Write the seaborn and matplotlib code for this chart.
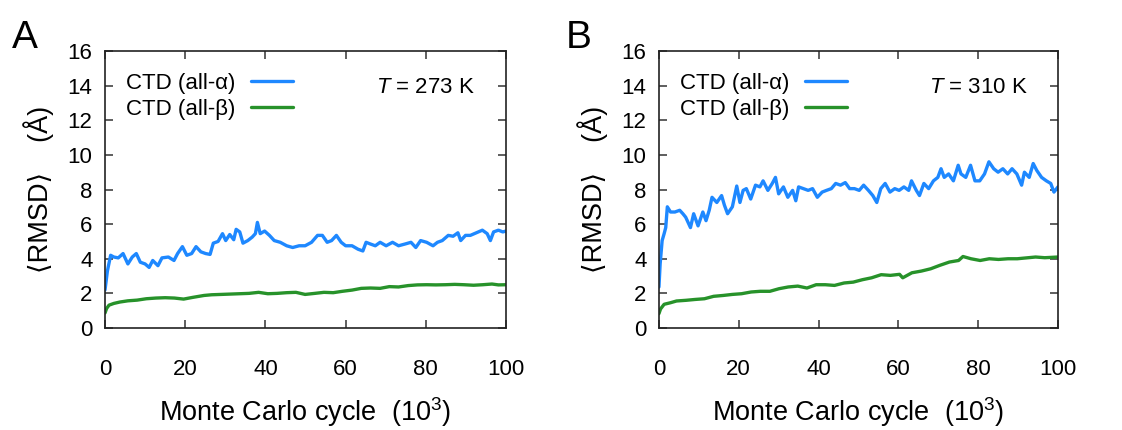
import matplotlib
matplotlib.use("Agg")
import matplotlib.pyplot as plt
import seaborn as sns
import pandas as pd

# ---- T = 273 K ----
cycle_273_alpha = [0, 0.6, 1.4, 2.2, 3.3, 4.5, 5.7, 6.8, 7.8, 8.8, 10.0, 11.0, 11.9, 13.2, 14.2,
                   15.8, 17.2, 18.1, 19.3, 20.4, 21.6, 22.7, 23.9, 25.1, 26.2, 27.0, 28.2, 29.3,
                   30.1, 31.1, 32.1, 32.7, 33.6, 34.4, 35.6, 36.7, 37.5, 38.0, 38.7, 39.8, 41.0,
                   42.2, 43.7, 45.3, 46.8, 48.4, 49.9, 51.5, 53.0, 54.2, 55.4, 56.5, 57.7, 58.9,
                   60.0, 61.6, 63.1, 64.3, 65.1, 66.2, 67.4, 68.6, 70.1, 71.7, 73.2, 74.8, 76.3,
                   77.5, 78.7, 80.2, 81.8, 82.9, 84.1, 85.6, 86.8, 88.0, 88.7, 89.9, 91.1, 92.6,
                   94.1, 95.3, 96.1, 96.9, 98.1, 99.2, 100.0]
rmsd_273_alpha = [2.2, 3.3, 4.2, 4.1, 4.05, 4.3, 3.7, 4.1, 4.3, 3.8, 3.7, 3.5, 3.9, 3.6, 4.05,
                  4.1, 3.9, 4.3, 4.7, 4.2, 4.3, 4.7, 4.4, 4.3, 4.25, 4.9, 5.0, 5.45, 5.05, 5.4,
                  5.1, 5.7, 5.55, 4.9, 5.05, 5.25, 5.45, 6.1, 5.45, 5.6, 5.35, 5.05, 4.95, 4.75,
                  4.65, 4.75, 4.75, 4.95, 5.35, 5.35, 4.95, 5.05, 5.35, 4.95, 4.75, 4.75, 4.55,
                  4.45, 4.95, 4.85, 4.75, 4.95, 4.75, 4.95, 4.75, 4.85, 4.95, 4.65, 5.05, 4.95,
                  4.75, 4.95, 5.05, 5.35, 5.3, 5.5, 5.05, 5.35, 5.35, 5.5, 5.65, 5.45, 5.05,
                  5.55, 5.65, 5.55, 5.6]
cycle_273_beta = [0, 0.4, 1.0, 2.2, 3.7, 5.7, 8.0, 10.3, 12.7, 15.0, 17.3, 19.6, 21.9, 24.7,
                  26.6, 29.0, 31.3, 33.6, 35.9, 38.3, 40.6, 42.9, 45.3, 47.6, 49.9, 52.3, 54.6,
                  56.9, 59.2, 61.6, 63.9, 66.2, 68.6, 70.9, 73.2, 75.6, 77.9, 80.2, 82.5, 84.9,
                  87.2, 89.5, 91.9, 94.2, 96.5, 98.1, 100.0]
rmsd_273_beta = [0.87, 1.13, 1.32, 1.42, 1.5, 1.57, 1.61, 1.69, 1.73, 1.75, 1.73, 1.67, 1.77,
                 1.88, 1.92, 1.94, 1.96, 1.98, 2.0, 2.06, 1.98, 2.0, 2.04, 2.06, 1.94, 2.0, 2.06,
                 2.04, 2.12, 2.19, 2.29, 2.31, 2.29, 2.39, 2.37, 2.45, 2.49, 2.5, 2.49, 2.5,
                 2.52, 2.5, 2.47, 2.5, 2.54, 2.49, 2.5]

# ---- T = 310 K ----
cycle_310_alpha = [0, 0.3, 0.8, 1.3, 1.7, 2.1, 2.9, 4.0, 5.2, 6.0, 6.7, 7.9, 8.7, 9.8, 11.0,
                   11.8, 12.6, 13.3, 14.5, 15.7, 16.4, 17.2, 18.4, 19.5, 20.3, 21.1, 21.9, 23.0,
                   24.2, 25.3, 26.1, 27.3, 28.4, 29.2, 30.0, 31.2, 32.3, 33.5, 34.3, 35.0, 36.2,
                   37.4, 38.5, 39.7, 40.9, 42.0, 43.2, 44.3, 45.5, 46.7, 47.8, 49.0, 50.2, 51.3,
                   52.5, 53.6, 54.6, 55.6, 56.7, 57.9, 59.1, 60.2, 61.4, 62.6, 63.3, 64.5, 65.3,
                   66.4, 67.6, 68.8, 69.9, 70.7, 71.5, 72.6, 73.8, 75.0, 75.7, 76.9, 78.1, 79.2,
                   80.4, 81.6, 82.7, 83.9, 85.0, 86.2, 87.4, 88.5, 89.7, 90.9, 91.6, 92.8, 93.8,
                   94.7, 95.9, 97.1, 98.2, 99.0, 100.0]
rmsd_310_alpha = [2.37, 3.7, 5.05, 5.45, 5.8, 7.0, 6.7, 6.7, 6.8, 6.6, 6.4, 5.8, 6.6, 5.9, 6.7,
                  6.2, 6.8, 7.55, 7.25, 7.65, 7.1, 6.6, 7.0, 8.2, 7.25, 7.95, 8.05, 7.45, 8.25,
                  8.15, 8.5, 7.95, 8.35, 8.7, 7.75, 8.15, 7.55, 7.95, 7.35, 8.15, 8.05, 7.95,
                  8.05, 7.55, 7.85, 7.95, 8.05, 8.35, 8.25, 8.4, 8.05, 8.05, 7.95, 8.25, 7.95,
                  7.65, 7.25, 8.05, 8.35, 7.85, 8.05, 7.95, 8.15, 7.95, 8.5, 7.95, 7.65, 8.35,
                  8.05, 8.5, 8.7, 9.2, 8.7, 8.9, 8.5, 9.4, 8.9, 8.7, 9.4, 8.5, 8.5, 8.9, 9.6,
                  9.2, 9.0, 9.2, 8.9, 9.2, 8.9, 8.25, 9.0, 8.7, 9.5, 9.1, 8.7, 8.5, 8.35, 7.85,
                  8.15]
cycle_310_beta = [0, 0.4, 1.3, 2.9, 4.4, 6.8, 9.1, 11.4, 13.7, 16.1, 18.4, 20.7, 23.1, 25.4,
                  27.8, 30.1, 32.4, 34.8, 37.1, 39.4, 41.7, 44.0, 46.4, 48.7, 51.0, 53.3, 55.7,
                  58.0, 60.3, 61.1, 63.4, 65.8, 68.1, 70.4, 72.8, 75.1, 76.2, 78.2, 80.5, 82.8,
                  85.1, 87.5, 89.8, 92.1, 94.4, 96.7, 100.0]
rmsd_310_beta = [0.83, 1.1, 1.37, 1.46, 1.56, 1.6, 1.65, 1.69, 1.83, 1.88, 1.94, 1.98, 2.08,
                 2.12, 2.12, 2.27, 2.37, 2.42, 2.31, 2.5, 2.5, 2.46, 2.6, 2.65, 2.79, 2.9, 3.08,
                 3.04, 3.1, 2.9, 3.19, 3.29, 3.42, 3.62, 3.81, 3.9, 4.13, 4.0, 3.9, 4.0, 3.96,
                 4.0, 4.0, 4.05, 4.1, 4.06, 4.1]

series_names = ["CTD (all-α)", "CTD (all-β)"]
series_colors = {"CTD (all-α)": "#1e88ff", "CTD (all-β)": "#27922a"}
panel_letters = ["A", "B"]
temperatures = ["273", "310"]
x_ticks = [0, 20, 40, 60, 80, 100]
y_ticks = [0, 2, 4, 6, 8, 10, 12, 14, 16]


def make_frame(ca, ra, cb, rb):
    return pd.concat([
        pd.DataFrame({"cycle": ca, "rmsd": ra, "series": series_names[0]}),
        pd.DataFrame({"cycle": cb, "rmsd": rb, "series": series_names[1]}),
    ], ignore_index=True)


frames = [
    make_frame(cycle_273_alpha, rmsd_273_alpha, cycle_273_beta, rmsd_273_beta),
    make_frame(cycle_310_alpha, rmsd_310_alpha, cycle_310_beta, rmsd_310_beta),
]

sns.set_theme(style="ticks")
plt.rcParams["font.family"] = ["Liberation Sans", "DejaVu Sans"]
plt.rcParams["mathtext.fontset"] = "custom"
plt.rcParams["mathtext.rm"] = "Liberation Sans"
plt.rcParams["mathtext.it"] = "Liberation Sans:italic"
for key in ["text.color", "axes.labelcolor", "xtick.labelcolor", "ytick.labelcolor"]:
    plt.rcParams[key] = "black"

fig = plt.figure(figsize=(11.22, 4.30), dpi=100)
axes_rects = [[0.0936, 0.2372, 0.3574, 0.6442], [0.5873, 0.2372, 0.3556, 0.6442]]

for rect, df, letter, temp in zip(axes_rects, frames, panel_letters, temperatures):
    ax = fig.add_axes(rect)
    sns.lineplot(data=df, x="cycle", y="rmsd", hue="series", palette=series_colors,
                 estimator=None, sort=False, lw=2.4, ax=ax)
    ax.set_xlim(0, 100)
    ax.set_ylim(0, 16)
    ax.set_xticks(x_ticks)
    ax.set_yticks(y_ticks)
    ax.tick_params(axis="both", which="both", direction="in", length=6, width=1.1,
                   color="#333333", labelsize=16, top=True, right=True)
    ax.tick_params(axis="x", pad=22)
    ax.tick_params(axis="y", pad=9)
    for sp in ax.spines.values():
        sp.set_linewidth(1.2)
        sp.set_color("#222222")
    ax.set_xlabel("Monte Carlo cycle  (10$^3$)", fontsize=19.5, labelpad=11)
    ax.set_ylabel("⟨RMSD⟩    (Å)", fontsize=19.5, labelpad=10)
    leg = ax.legend(loc="upper left", bbox_to_anchor=(0.052, 0.922), frameon=False,
                    markerfirst=False, fontsize=16, handlelength=1.9, handletextpad=0.7,
                    labelspacing=0.25, borderpad=0, borderaxespad=0)
    for line in leg.get_lines():
        line.set_linewidth(2.4)
    ax.text(0.80, 0.868, f"$T$ = {temp} K", transform=ax.transAxes, fontsize=16,
            ha="center", va="center")
    fig.text(rect[0] - 0.083, 0.888, letter, fontsize=28, ha="left", va="baseline")

fig.savefig("out.png", dpi=100)
